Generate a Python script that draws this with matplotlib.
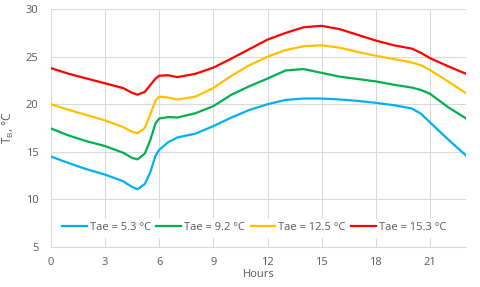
import matplotlib.pyplot as plt

# Hourly values (extra points around the morning dip)
hours = [0, 1, 2, 3, 4, 4.5, 4.8, 5.2, 5.5, 5.8, 6, 6.5, 7, 8, 9, 10, 11, 12,
         13, 14, 15, 16, 17, 18, 19, 20, 20.5, 21, 22, 23]

tae_53 = [14.5, 13.8, 13.15, 12.6, 11.9, 11.3, 11.05, 11.6, 12.8, 14.6, 15.2, 16.0,
          16.5, 16.9, 17.7, 18.6, 19.4, 20.0, 20.45, 20.6, 20.6, 20.5, 20.35, 20.15,
          19.9, 19.55, 19.0, 18.1, 16.3, 14.6]
tae_92 = [17.45, 16.7, 16.1, 15.6, 14.9, 14.35, 14.2, 14.8, 16.2, 18.0, 18.5, 18.65,
          18.6, 19.05, 19.8, 21.0, 21.9, 22.7, 23.55, 23.7, 23.3, 22.9, 22.65, 22.4,
          22.05, 21.75, 21.5, 21.1, 19.7, 18.5]
tae_125 = [20.0, 19.4, 18.85, 18.3, 17.6, 17.1, 16.95, 17.5, 18.9, 20.4, 20.8, 20.7,
           20.5, 20.8, 21.7, 23.0, 24.1, 25.0, 25.7, 26.1, 26.2, 25.95, 25.5, 25.1,
           24.75, 24.4, 24.1, 23.6, 22.4, 21.15]
tae_153 = [23.8, 23.2, 22.7, 22.2, 21.7, 21.2, 21.0, 21.3, 22.0, 22.7, 23.0, 23.05,
           22.85, 23.2, 23.85, 24.8, 25.8, 26.8, 27.5, 28.1, 28.25, 27.9, 27.3, 26.7,
           26.2, 25.85, 25.4, 24.85, 24.0, 23.2]

labels = ['Tae = 5.3 °C', 'Tae = 9.2 °C', 'Tae = 12.5 °C', 'Tae = 15.3 °C']
colors = ['#00B0F0', '#00B050', '#FFC000', '#FF0000']

plt.rcParams['font.family'] = ['Open Sans', 'DejaVu Sans']
text_color = '#595959'

fig = plt.figure(figsize=(4.8, 2.87), dpi=100)
ax = fig.add_axes([0.106, 0.140, 0.865, 0.828])

for vals, lab, col in zip([tae_53, tae_92, tae_125, tae_153], labels, colors):
    ax.plot(hours, vals, color=col, linewidth=1.6, label=lab,
            solid_joinstyle='round')

ax.set_xlim(0, 23)
ax.set_ylim(5, 30)
ax.set_xticks(range(0, 22, 3))
ax.set_yticks(range(5, 31, 5))
ax.grid(True, color='#D9D9D9', linewidth=0.75)
ax.set_axisbelow(True)

for side in ['left', 'right', 'top']:
    ax.spines[side].set_visible(False)
ax.spines['bottom'].set_color('#D9D9D9')
ax.tick_params(length=0, labelsize=8, colors=text_color)
ax.tick_params(axis='x', pad=7)
ax.tick_params(axis='y', pad=9)

ax.set_xlabel('Hours', fontsize=8, color=text_color, labelpad=1)
ax.set_ylabel(r'T$_\mathregular{B}$, °C', fontsize=8.5, color=text_color, labelpad=7)

leg = ax.legend(loc='lower center', bbox_to_anchor=(0.49, 0.02), ncol=4, frameon=True,
                fontsize=8, handlelength=2.2, handletextpad=0.3, columnspacing=0.5,
                borderpad=0.3, fancybox=False, edgecolor='white', framealpha=1)
for t in leg.get_texts():
    t.set_color(text_color)

fig.savefig('out.png', dpi=100)
